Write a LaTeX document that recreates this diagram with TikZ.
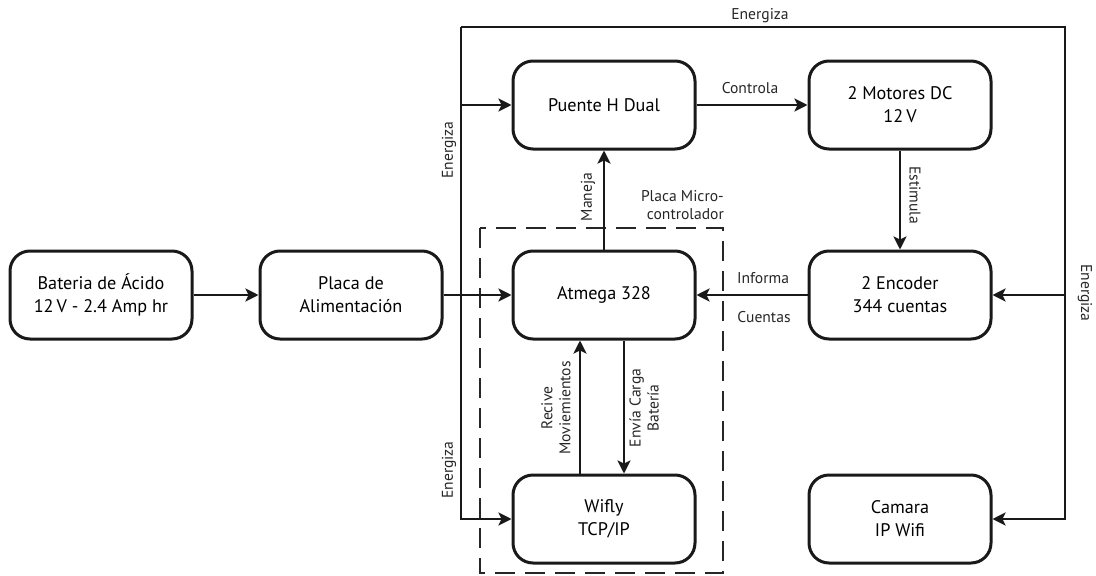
\documentclass[tikz,border=0pt]{standalone}
\usepackage{fontspec}
\setmainfont{PT Sans}
\usetikzlibrary{arrows.meta}
\tikzset{
  blk/.style={draw=black!90, line width=3pt, rounded corners=20pt, minimum width=182pt, minimum height=88pt, align=center, font=\fontsize{18.2}{23}\selectfont, inner sep=0pt},
  arr/.style={draw=black!90, line width=2.8pt, -{Stealth[length=13pt,width=13pt,inset=3pt]}},
  lbl/.style={font=\fontsize{15.6}{18}\selectfont, align=center, inner sep=0pt, text=black!85},
  dashbox/.style={draw=black!85, line width=1.2pt, dash pattern=on 20pt off 10pt}
}
\begin{document}
\begin{tikzpicture}[x=1pt,y=-1pt]
\useasboundingbox (0,0) rectangle (1096,576);
% blocks
\node[blk] (bat) at (101,295) {Bateria de Ácido\\12\,V - 2.4 Amp hr};
\node[blk] (pla) at (351,295) {Placa de\\Alimentación};
\node[blk] (pue) at (604,105) {Puente H Dual};
\node[blk] (mot) at (900,105) {2 Motores DC\\12\,V};
\node[blk] (atm) at (604,295) {Atmega 328};
\node[blk] (enc) at (900,295) {2 Encoder\\344 cuentas};
\node[blk] (wif) at (604,519) {Wifly\\TCP/IP};
\node[blk] (cam) at (900,519) {Camara\\IP Wifi};
% dashed board
\draw[dashbox] (480,228) rectangle (723,573);
\node[lbl, align=right, anchor=east] (pmc) at (724,205) {Placa Micro-\\controlador};
% power bus
\coordinate (tl) at (461,27);
\coordinate (tr) at (1065,27);
\draw[arr] (tl) |- (wif.west);
\draw[arr] (tl) -- (tr) |- (cam.east);
\draw[arr] (pue.west -| tl) -- (pue.west);
\draw[arr] (enc.east -| tr) -- (enc.east);
% connections
\draw[arr] (bat.east) -- (pla.west);
\draw[arr] (pla.east) -- (atm.west);
\draw[arr] (pue.east) -- (mot.west);
\draw[arr] (mot.south) -- (enc.north);
\draw[arr] (atm.north) -- (pue.south);
\draw[arr] (enc.west) -- (atm.east);
\draw[arr] ([xshift=-24pt]wif.north) -- ([xshift=-24pt]atm.south);
\draw[arr] ([xshift=20pt]atm.south) -- ([xshift=20pt]wif.north);
% labels
\node[lbl] (l1) at (760,16) {Energiza};
\node[lbl, rotate=90] (l2) at (449,150) {Energiza};
\node[lbl, rotate=90] (l3) at (449,470) {Energiza};
\node[lbl, rotate=-90] (l4) at (1085,293) {Energiza};
\node[lbl] (l5) at (750,88) {Controla};
\node[lbl, rotate=-90] (l6) at (915,195) {Estimula};
\node[lbl, rotate=90] (l7) at (588,197) {Maneja};
\node[lbl] (l8) at (763,278) {Informa};
\node[lbl] (l9) at (764,317) {Cuentas};
\node[lbl, rotate=90] (l10) at (556,408) {Recive\\Moviemientos};
\node[lbl, rotate=90] (l11) at (644,408) {Envía Carga\\Batería};
\end{tikzpicture}
\end{document}
